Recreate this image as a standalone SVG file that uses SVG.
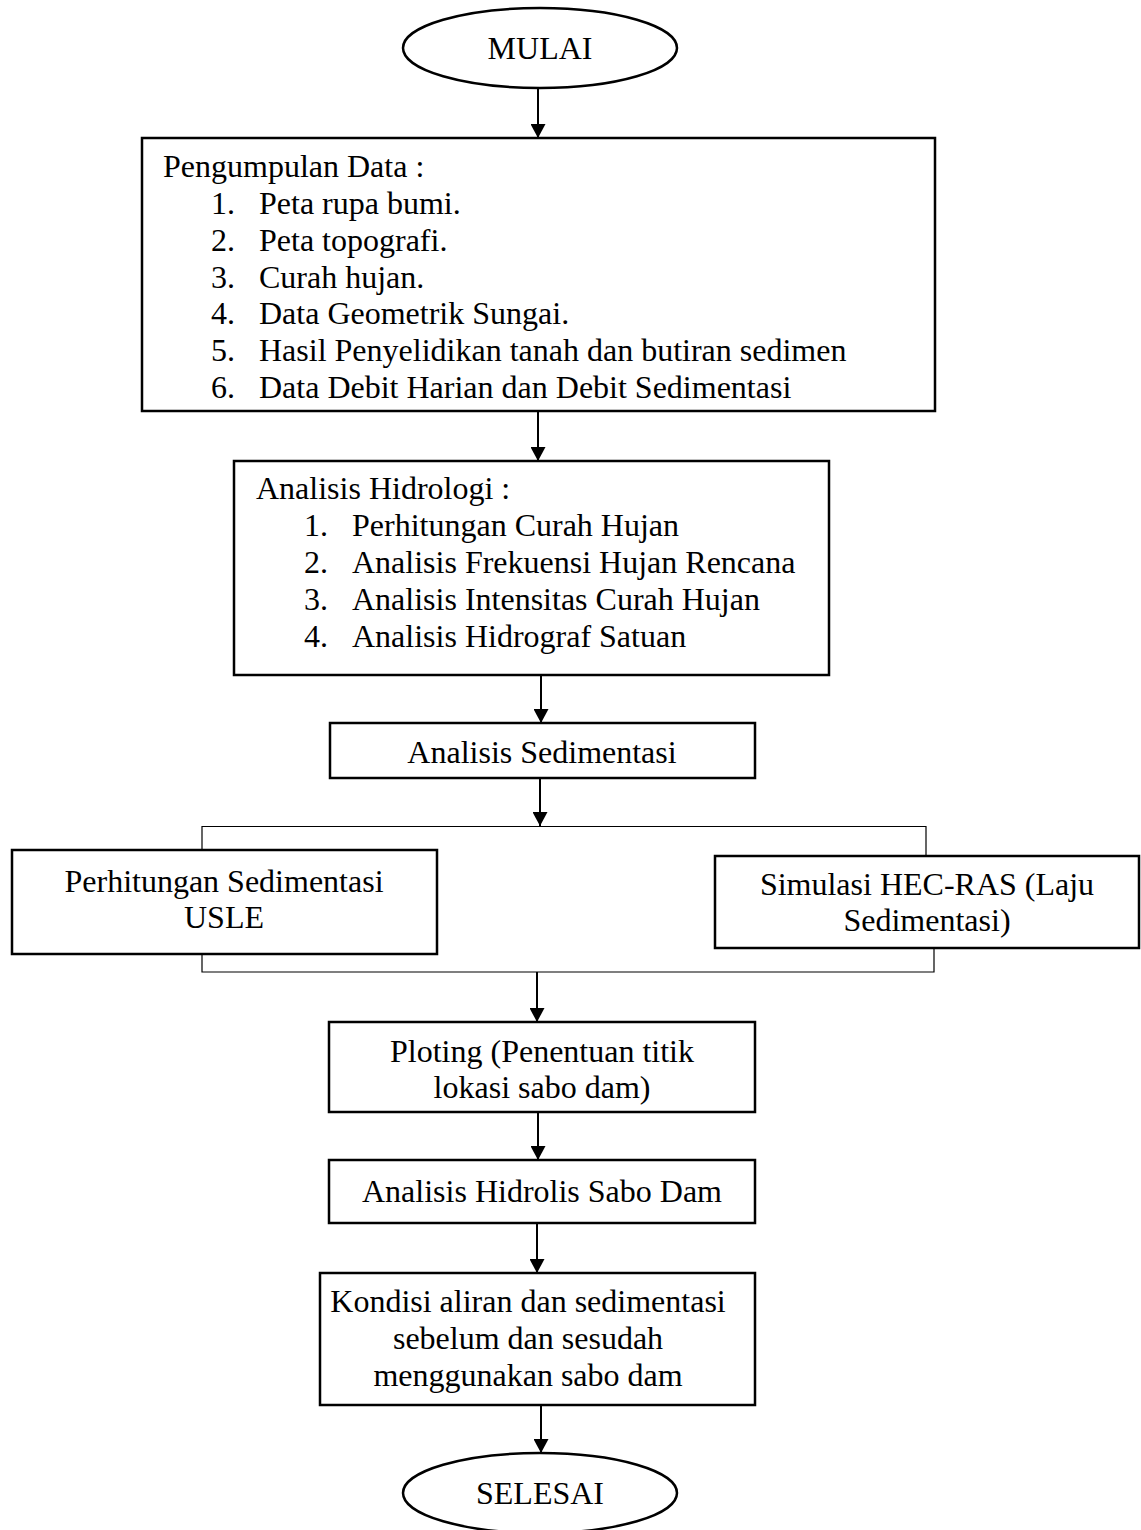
<svg xmlns="http://www.w3.org/2000/svg" width="1141" height="1530" viewBox="0 0 1141 1530">
<style>
.box{fill:#fff;stroke:#000;stroke-width:2.5}
.t{font-family:"Liberation Serif","Times New Roman",serif;font-size:32px;fill:#000}
.c{text-anchor:middle}
.arr{stroke:#000;stroke-width:2;fill:none;marker-end:url(#ah)}
.br{stroke:#000;stroke-width:1.2;fill:none}
</style>
<defs>
<marker id="ah" markerUnits="userSpaceOnUse" markerWidth="15" markerHeight="15" refX="14" refY="7.5" orient="auto">
<path d="M0,0 L14,7.5 L0,15 z" fill="#000"/>
</marker>
</defs>
<rect width="1141" height="1530" fill="#fff"/>
<g id="connectors">
<line class="arr" x1="538" y1="88" x2="538" y2="138"/>
<line class="arr" x1="538" y1="411" x2="538" y2="461"/>
<line class="arr" x1="541" y1="675" x2="541" y2="723"/>
<line class="arr" x1="540" y1="778" x2="540" y2="826"/>
<polyline class="br" points="202,850 202,826.5 926,826.5 926,856"/>
<polyline class="br" points="202,954 202,972 934,972 934,948"/>
<line class="arr" x1="537" y1="972" x2="537" y2="1022"/>
<line class="arr" x1="538" y1="1112" x2="538" y2="1160"/>
<line class="arr" x1="537" y1="1223" x2="537" y2="1273"/>
<line class="arr" x1="541" y1="1405" x2="541" y2="1453"/>
</g>
<g id="mulai">
<ellipse class="box" cx="540" cy="48" rx="137" ry="40"/>
<text class="t c" x="540" y="59">MULAI</text>
</g>
<g id="pengumpulan">
<rect class="box" x="142" y="138" width="793" height="273"/>
<text class="t" x="163" y="177">Pengumpulan Data :</text>
<text class="t" x="211" y="214">1.</text><text class="t" x="259" y="214">Peta rupa bumi.</text>
<text class="t" x="211" y="251">2.</text><text class="t" x="259" y="251">Peta topografi.</text>
<text class="t" x="211" y="288">3.</text><text class="t" x="259" y="288">Curah hujan.</text>
<text class="t" x="211" y="324">4.</text><text class="t" x="259" y="324">Data Geometrik Sungai.</text>
<text class="t" x="211" y="361">5.</text><text class="t" x="259" y="361">Hasil Penyelidikan tanah dan butiran sedimen</text>
<text class="t" x="211" y="398">6.</text><text class="t" x="259" y="398">Data Debit Harian dan Debit Sedimentasi</text>
</g>
<g id="hidrologi">
<rect class="box" x="234" y="461" width="595" height="214"/>
<text class="t" x="256" y="499">Analisis Hidrologi :</text>
<text class="t" x="304" y="536">1.</text><text class="t" x="352" y="536">Perhitungan Curah Hujan</text>
<text class="t" x="304" y="573">2.</text><text class="t" x="352" y="573">Analisis Frekuensi Hujan Rencana</text>
<text class="t" x="304" y="610">3.</text><text class="t" x="352" y="610">Analisis Intensitas Curah Hujan</text>
<text class="t" x="304" y="647">4.</text><text class="t" x="352" y="647">Analisis Hidrograf Satuan</text>
</g>
<g id="sedimentasi">
<rect class="box" x="330" y="723" width="425" height="55"/>
<text class="t c" x="542" y="763">Analisis Sedimentasi</text>
</g>
<g id="usle">
<rect class="box" x="12" y="850" width="425" height="104"/>
<text class="t c" x="224" y="892">Perhitungan Sedimentasi</text>
<text class="t c" x="224" y="928">USLE</text>
</g>
<g id="hecras">
<rect class="box" x="715" y="856" width="424" height="92"/>
<text class="t c" x="927" y="895">Simulasi HEC-RAS (Laju</text>
<text class="t c" x="927" y="931">Sedimentasi)</text>
</g>
<g id="ploting">
<rect class="box" x="329" y="1022" width="426" height="90"/>
<text class="t c" x="542" y="1062">Ploting (Penentuan titik</text>
<text class="t c" x="542" y="1098">lokasi sabo dam)</text>
</g>
<g id="hidrolis">
<rect class="box" x="329" y="1160" width="426" height="63"/>
<text class="t c" x="542" y="1202">Analisis Hidrolis Sabo Dam</text>
</g>
<g id="kondisi">
<rect class="box" x="320" y="1273" width="435" height="132"/>
<text class="t c" x="528" y="1312">Kondisi aliran dan sedimentasi</text>
<text class="t c" x="528" y="1349">sebelum dan sesudah</text>
<text class="t c" x="528" y="1386">menggunakan sabo dam</text>
</g>
<g id="selesai">
<ellipse class="box" cx="540" cy="1493" rx="137" ry="40"/>
<text class="t c" x="540" y="1504">SELESAI</text>
</g>
</svg>
